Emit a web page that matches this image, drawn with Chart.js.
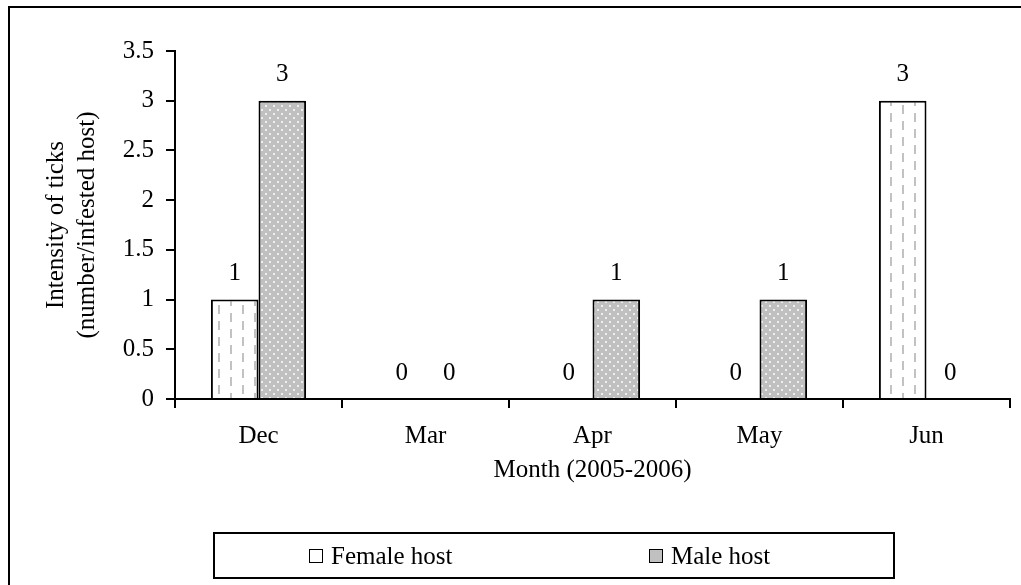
<!DOCTYPE html>
<html>
<head>
<meta charset="utf-8">
<script src="https://cdn.jsdelivr.net/npm/chart.js@4/dist/chart.umd.min.js"></script>
<style>
  body { margin: 0; background: #fff; }
  #wrap { position: relative; width: 1021px; height: 585px; overflow: hidden; }
  #frame { position: absolute; left: 8px; top: 6px; width: 1060px; height: 640px; border: 2px solid #000; }
  canvas { position: absolute; left: 0; top: 0; }
  #legend { position: absolute; left: 213px; top: 532px; width: 682px; height: 47px; border: 2px solid #000; box-sizing: border-box;
            font: 25px "Liberation Serif", serif; color: #000; }
  .item { position: absolute; top: 7px; line-height: 30px; white-space: nowrap; }
  .sw { display: inline-block; width: 12px; height: 12px; border: 1px solid #000; margin-right: 8px; vertical-align: 1px; }
</style>
</head>
<body>
<div id="wrap">
  <div id="frame"></div>
  <canvas id="chart" width="1021" height="585"></canvas>
  <div id="legend"></div>
</div>
<script>
const months = ['Dec', 'Mar', 'Apr', 'May', 'Jun'];
const seriesNames = ['Female host', 'Male host'];
const femaleHost = [1, 0, 0, 0, 3];
const maleHost = [3, 0, 1, 1, 0];
const yTicks = [0, 0.5, 1, 1.5, 2, 2.5, 3, 3.5];

const serif = '"Liberation Serif", "Times New Roman", serif';

// dashed fill for female bars
function dashPattern() {
  const c = document.createElement('canvas');
  c.width = 24; c.height = 16;
  const g = c.getContext('2d');
  g.fillStyle = '#fff';
  g.fillRect(0, 0, 24, 16);
  g.fillStyle = '#c2c2c2';
  g.fillRect(2, 1, 2, 9);
  g.fillRect(14, 9, 2, 9);
  g.fillRect(14, -7, 2, 9);
  return g.createPattern(c, 'repeat');
}

// dotted fill for male bars
function dotPattern() {
  const c = document.createElement('canvas');
  c.width = 8; c.height = 8;
  const g = c.getContext('2d');
  g.fillStyle = '#c0c0c0';
  g.fillRect(0, 0, 8, 8);
  g.fillStyle = '#eeeeee';
  g.fillRect(1, 1, 2, 2);
  g.fillRect(5, 5, 2, 2);
  return g.createPattern(c, 'repeat');
}

const fills = [dashPattern(), dotPattern()];

const valueLabels = {
  id: 'valueLabels',
  afterDatasetsDraw(chart) {
    const ctx = chart.ctx;
    ctx.save();
    ctx.font = '25px ' + serif;
    ctx.fillStyle = '#000';
    ctx.textAlign = 'center';
    ctx.textBaseline = 'middle';
    chart.data.datasets.forEach((ds, i) => {
      chart.getDatasetMeta(i).data.forEach((bar, j) => {
        ctx.fillText(String(ds.data[j]), bar.x, bar.y - 26);
      });
    });
    ctx.restore();
  }
};

new Chart(document.getElementById('chart'), {
  type: 'bar',
  data: {
    labels: months,
    datasets: [
      { label: seriesNames[0], data: femaleHost, backgroundColor: fills[0], borderColor: '#000', borderWidth: 2, borderSkipped: 'start' },
      { label: seriesNames[1], data: maleHost, backgroundColor: fills[1], borderColor: '#000', borderWidth: 2, borderSkipped: 'start' }
    ]
  },
  options: {
    responsive: false,
    animation: false,
    layout: { padding: { left: 0, top: 51, right: 11, bottom: 91 } },
    datasets: { bar: { categoryPercentage: 0.57, barPercentage: 1.0 } },
    plugins: { legend: { display: false }, tooltip: { enabled: false } },
    scales: {
      x: {
        grid: { drawOnChartArea: false, tickLength: 9, color: '#000', lineWidth: 2 },
        border: { color: '#000', width: 2 },
        ticks: { color: '#000', font: { family: serif, size: 25 }, padding: 13 },
        title: { display: true, text: 'Month (2005-2006)', color: '#000', font: { family: serif, size: 25 }, padding: { top: 0, bottom: 9 } },
        afterFit(scale) { scale.height = 95; }
      },
      y: {
        min: 0,
        max: 3.5,
        grid: { drawOnChartArea: false, tickLength: 9, color: '#000', lineWidth: 2 },
        border: { color: '#000', width: 2 },
        afterBuildTicks(scale) { scale.ticks = yTicks.map(v => ({ value: v })); },
        ticks: { color: '#000', font: { family: serif, size: 25 }, padding: 12, callback: v => String(v) },
        title: {
          display: true,
          text: ['Intensity of ticks', '(number/infested host)'],
          color: '#000',
          font: { family: serif, size: 25, lineHeight: 1.25 },
          padding: { top: 41 }
        },
        afterFit(scale) { scale.width = 175; }
      }
    }
  },
  plugins: [valueLabels]
});

// legend
const legendPos = [94, 434];
const legend = document.getElementById('legend');
seriesNames.forEach((name, i) => {
  const item = document.createElement('div');
  item.className = 'item';
  item.style.left = legendPos[i] + 'px';
  const sw = document.createElement('span');
  sw.className = 'sw';
  sw.style.background = i === 0 ? '#fff' : '#c0c0c0';
  item.appendChild(sw);
  item.appendChild(document.createTextNode(name));
  legend.appendChild(item);
});
</script>
</body>
</html>
